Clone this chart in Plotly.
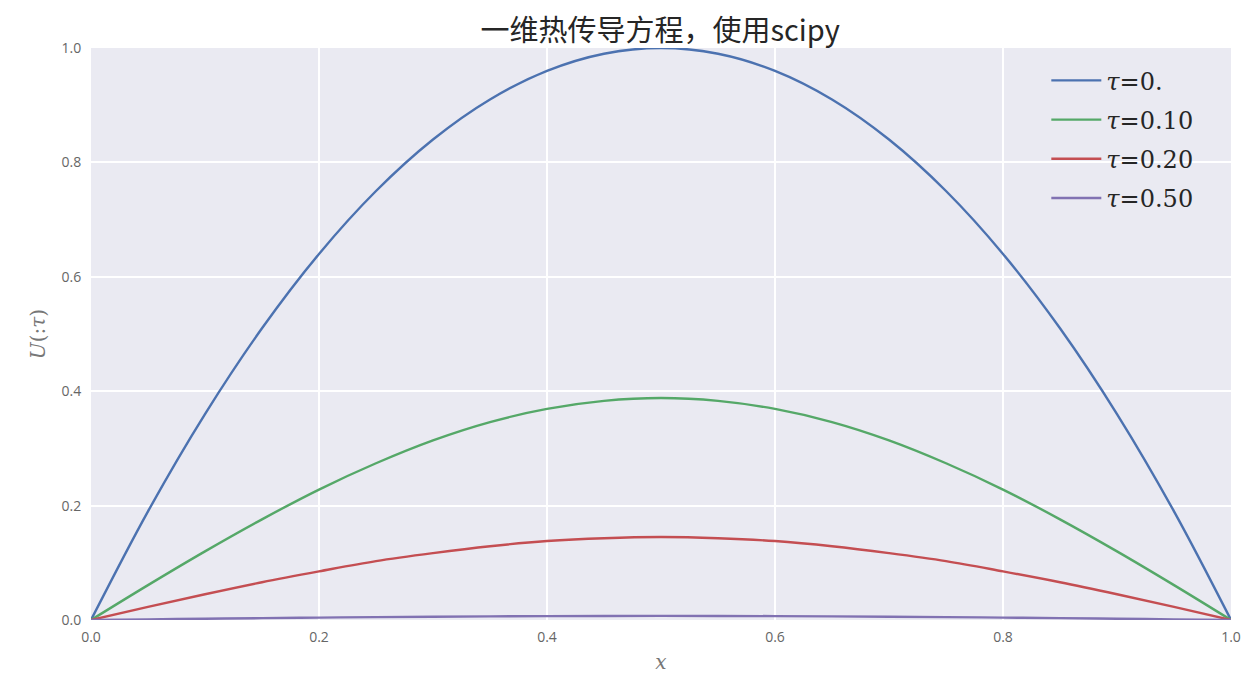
import plotly.graph_objects as go

x_vals = [0.0, 0.05, 0.10, 0.15, 0.20, 0.25, 0.30, 0.35, 0.40, 0.45, 0.50,
          0.55, 0.60, 0.65, 0.70, 0.75, 0.80, 0.85, 0.90, 0.95, 1.0]
u_t000 = [0.0, 0.19, 0.36, 0.51, 0.64, 0.75, 0.84, 0.91, 0.96, 0.99, 1.0,
          0.99, 0.96, 0.91, 0.84, 0.75, 0.64, 0.51, 0.36, 0.19, 0.0]
u_t010 = [0.0, 0.061, 0.120, 0.176, 0.228, 0.274, 0.314, 0.346, 0.369, 0.383, 0.388,
          0.383, 0.369, 0.346, 0.314, 0.274, 0.228, 0.176, 0.120, 0.061, 0.0]
u_t020 = [0.0, 0.023, 0.045, 0.066, 0.085, 0.103, 0.117, 0.129, 0.138, 0.143, 0.145,
          0.143, 0.138, 0.129, 0.117, 0.103, 0.085, 0.066, 0.045, 0.023, 0.0]
u_t050 = [0.0, 0.0011, 0.0022, 0.0033, 0.0042, 0.0051, 0.0058, 0.0064, 0.0068, 0.0071, 0.0072,
          0.0071, 0.0068, 0.0064, 0.0058, 0.0051, 0.0042, 0.0033, 0.0022, 0.0011, 0.0]
series_names = ["<i>τ</i>=0.", "<i>τ</i>=0.10", "<i>τ</i>=0.20", "<i>τ</i>=0.50"]
series_colors = ["#4C72B0", "#55A868", "#C44E52", "#8172B2"]
tick_vals = [0.0, 0.2, 0.4, 0.6, 0.8, 1.0]
tick_text = ["0.0", "0.2", "0.4", "0.6", "0.8", "1.0"]

fig = go.Figure()
for i, (ys, name, color) in enumerate(zip([u_t000, u_t010, u_t020, u_t050], series_names, series_colors)):
    fig.add_trace(go.Scatter(x=x_vals, y=ys, mode="lines", name=name, legendgroup=f"g{i}",
                             line=dict(color=color, width=2.4, shape="spline", smoothing=1.0)))

fig.update_layout(
    width=1255, height=687,
    margin=dict(l=91, r=24, t=48, b=67),
    paper_bgcolor="white",
    plot_bgcolor="#EAEAF2",
    title=dict(text="一维热传导方程，使用scipy", x=0.526, xanchor="center", y=0.955, yanchor="middle",
               font=dict(family="Noto Sans CJK SC", size=29, color="#262626")),
    xaxis=dict(range=[0, 1], tickvals=tick_vals, ticktext=tick_text, showgrid=True, gridcolor="white",
               gridwidth=1.6, zeroline=False, showline=False, ticks="outside", ticklen=4,
               tickcolor="rgba(0,0,0,0)",
               tickfont=dict(family="Open Sans", size=14, color="#666666"),
               title=dict(text="<i>x</i>", font=dict(family="DejaVu Serif", size=20, color="#777777"),
                          standoff=10)),
    yaxis=dict(range=[0, 1], tickvals=tick_vals, ticktext=tick_text, showgrid=True, gridcolor="white",
               gridwidth=1.6, zeroline=False, showline=False, ticks="outside", ticklen=6,
               tickcolor="rgba(0,0,0,0)",
               tickfont=dict(family="Open Sans", size=14, color="#666666"),
               title=dict(text="<i>U</i>(:<i>τ</i>)", font=dict(family="DejaVu Serif", size=20, color="#777777"),
                          standoff=10)),
    legend=dict(x=0.838, y=0.982, xanchor="left", yanchor="top", bgcolor="rgba(0,0,0,0)",
                font=dict(family="DejaVu Serif", size=24, color="#262626"),
                tracegroupgap=5, itemwidth=50),
    showlegend=True,
)

fig.write_html("out.html")
